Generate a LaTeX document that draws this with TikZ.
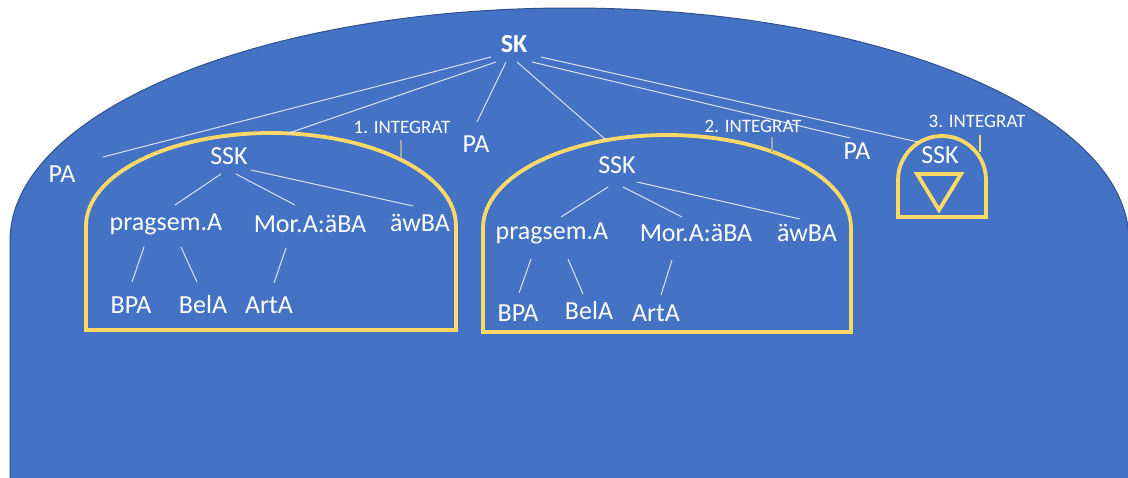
\documentclass[tikz,border=0pt]{standalone}
\usepackage{fontspec}
\setmainfont{Carlito}
\definecolor{bgblue}{HTML}{4472C4}
\definecolor{bgedge}{HTML}{2F528F}
\definecolor{gold}{HTML}{FFD966}
\definecolor{tick}{HTML}{A5A5A5}
\begin{document}
\begin{tikzpicture}[x=1pt,y=-1pt,
  lbl/.style={text=white,inner sep=0pt,text height=16pt,text depth=4pt,
    font=\fontsize{26}{30}\selectfont},
  small/.style={text=white,inner sep=0pt,font=\fontsize{19}{22}\selectfont},
  link/.style={draw=white,draw opacity=.8,line width=1pt},
  frame/.style={draw=gold,line width=3.8pt},
  tickline/.style={draw=tick,line width=1.2pt}]
\useasboundingbox (0,0) rectangle (1128,477);
\fill[white] (0,0) rectangle (1128,477);
% outer area
\filldraw[fill=bgblue,draw=bgedge,line width=1pt]
  (10,500) -- (10,241) arc[start angle=180,end angle=360,x radius=559.5,y radius=233]
  -- (1129,500) -- cycle;
% three sub-clause frames
\draw[frame] (86,330) -- (86,226) arc[start angle=180,end angle=360,x radius=185,y radius=93]
  -- (456,330) -- cycle;
\draw[frame] (483,332) -- (483,228) arc[start angle=180,end angle=360,x radius=184,y radius=93]
  -- (851,332) -- cycle;
\draw[frame] (898,217) -- (898,180) arc[start angle=180,end angle=360,x radius=44,y radius=44]
  -- (986,217) -- cycle;
\draw[frame,line join=miter] (917,174) -- (961,174) -- (939,210) -- cycle;

% labels
\node[lbl,font=\fontsize{26}{30}\selectfont\bfseries] (sk) at (514,46) {SK};
\node[lbl] (pa1) at (62,176) {PA};
\node[lbl] (pa2) at (476,146) {PA};
\node[lbl] (pa3) at (857,153) {PA};
\node[small] (int1) at (402,127) {1. INTEGRAT};
\node[small] (int2) at (753,126) {2. INTEGRAT};
\node[small] (int3) at (977,121) {3. INTEGRAT};

\node[lbl] (ssk1) at (229,158) {SSK};
\node[lbl] (prag1) at (166,224) {pragsem.A};
\node[lbl] (mor1) at (310,226) {Mor.A:äBA};
\node[lbl] (awba1) at (420,225) {äwBA};
\node[lbl] (bpa1) at (131,307) {BPA};
\node[lbl] (bela1) at (203,307) {BelA};
\node[lbl] (arta1) at (269,307) {ArtA};

\node[lbl] (ssk2) at (617,167) {SSK};
\node[lbl] (prag2) at (552,233) {pragsem.A};
\node[lbl] (mor2) at (696,235) {Mor.A:äBA};
\node[lbl] (awba2) at (807,235) {äwBA};
\node[lbl] (bpa2) at (518,315) {BPA};
\node[lbl] (bela2) at (589,313) {BelA};
\node[lbl] (arta2) at (656,315) {ArtA};

\node[lbl] (ssk3) at (940,157) {SSK};

% main clause branches
\draw[link] ([shift={(-23,11)}]sk.center) -- ([shift={(41,-19)}]pa1.center);
\draw[link] ([shift={(-18,16)}]sk.center) -- ([shift={(60,-25)}]ssk1.center);
\draw[link] ([shift={(-8,16)}]sk.center) -- ([shift={(1,-24)}]pa2.center);
\draw[link] ([shift={(3,16)}]sk.center) -- ([shift={(-11,-27)}]ssk2.center);
\draw[link] ([shift={(18,16)}]sk.center) -- ([shift={(-7,-15)}]pa3.center);
\draw[link] ([shift={(27,11)}]sk.center) -- ([shift={(-22,-15)}]ssk3.center);

% integrat markers
\draw[tickline] ([shift={(-1,13)}]int1.center) -- ++(0,18);
\draw[tickline] ([shift={(19,11)}]int2.center) -- ++(0,15);
\draw[draw=gold,line width=1.2pt] ([shift={(3,14)}]int3.center) -- ++(0,17);

% first sub-clause
\draw[link] ([shift={(-8,16)}]ssk1.center) -- ([shift={(9,-19)}]prag1.center);
\draw[link] ([shift={(7,16)}]ssk1.center) -- ([shift={(-15,-21)}]mor1.center);
\draw[link] ([shift={(22,12)}]ssk1.center) -- ([shift={(-7,-19)}]awba1.center);
\draw[link] ([shift={(-22,23)}]prag1.center) -- ([shift={(1,-25)}]bpa1.center);
\draw[link] ([shift={(15,23)}]prag1.center) -- ([shift={(-6,-25)}]bela1.center);
\draw[link] ([shift={(-24,22)}]mor1.center) -- ([shift={(5,-24)}]arta1.center);

% second sub-clause
\draw[link] ([shift={(-9,20)}]ssk2.center) -- ([shift={(9,-16)}]prag2.center);
\draw[link] ([shift={(6,20)}]ssk2.center) -- ([shift={(-14,-18)}]mor2.center);
\draw[link] ([shift={(20,15)}]ssk2.center) -- ([shift={(-7,-16)}]awba2.center);
\draw[link] ([shift={(-21,26)}]prag2.center) -- ([shift={(1,-22)}]bpa2.center);
\draw[link] ([shift={(16,26)}]prag2.center) -- ([shift={(-6,-19)}]bela2.center);
\draw[link] ([shift={(-24,25)}]mor2.center) -- ([shift={(5,-20)}]arta2.center);
\end{tikzpicture}
\end{document}
